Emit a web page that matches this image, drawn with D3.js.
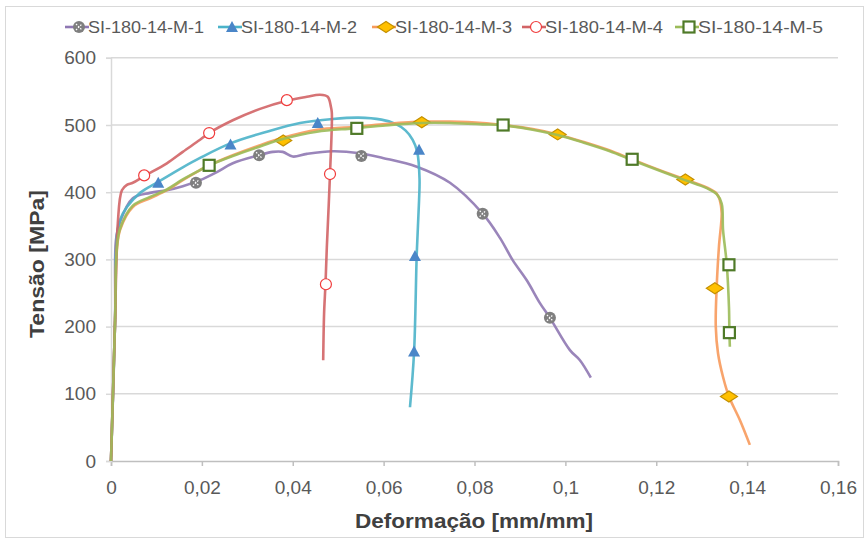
<!DOCTYPE html>
<html>
<head>
<meta charset="utf-8">
<script src="https://cdn.jsdelivr.net/npm/d3@7"></script>
<style>
  html, body { margin: 0; padding: 0; background: #ffffff; }
  svg { display: block; }
  text { font-family: "Liberation Sans", Arial, sans-serif; }
</style>
</head>
<body>
<div id="chart"></div>
<script>
// ---------- DATA ----------
const seriesNames = ["SI-180-14-M-1", "SI-180-14-M-2", "SI-180-14-M-3", "SI-180-14-M-4", "SI-180-14-M-5"];

const xTicks = [0, 0.02, 0.04, 0.06, 0.08, 0.1, 0.12, 0.14, 0.16];
const xTickLabels = ["0", "0,02", "0,04", "0,06", "0,08", "0,1", "0,12", "0,14", "0,16"];
const yTicks = [0, 100, 200, 300, 400, 500, 600];
const yTickLabels = ["0", "100", "200", "300", "400", "500", "600"];

// M-1
const m1Strain = [0, 0.0009, 0.0011, 0.002, 0.0048, 0.0086, 0.0123, 0.0158, 0.0196, 0.0233, 0.0268, 0.0326, 0.0356, 0.0378, 0.040, 0.0431, 0.0488, 0.0548, 0.0598, 0.0673, 0.0746, 0.0818, 0.0856, 0.0884, 0.0915, 0.0944, 0.0966, 0.101, 0.1032, 0.1056];
const m1Stress = [0, 210, 329, 356, 391, 399, 403, 409, 418, 430, 443, 455, 460, 460, 453, 457, 461, 458, 451, 438, 414, 368, 332, 299, 269, 235, 213, 165, 150, 124];
const m1MarkStrain = [0.0187, 0.0326, 0.0551, 0.0818, 0.0966];
const m1MarkStress = [414, 455, 454, 368, 213];

// M-2
const m2Strain = [0, 0.0009, 0.0013, 0.002, 0.0035, 0.0064, 0.0103, 0.0158, 0.0196, 0.0264, 0.0343, 0.0416, 0.0488, 0.0545, 0.0595, 0.0625, 0.0648, 0.0664, 0.0674, 0.0679, 0.0678, 0.0673, 0.0667, 0.0658];
const m2Stress = [0, 210, 336, 359, 378, 399, 415, 437, 451, 473, 490, 503, 509, 511, 508, 502, 492, 478, 460, 420, 388, 310, 162, 80];
const m2MarkStrain = [0.0104, 0.0263, 0.0455, 0.0678, 0.0669, 0.0667];
const m2MarkStress = [414, 471, 503, 463, 305, 163];

// M-3
const m3Strain = [0, 0.0009, 0.0013, 0.002, 0.0048, 0.0086, 0.0123, 0.0158, 0.0196, 0.0216, 0.0268, 0.0328, 0.0378, 0.0453, 0.0532, 0.0598, 0.0684, 0.0746, 0.0818, 0.0862, 0.0928, 0.0983, 0.1039, 0.1098, 0.1146, 0.1215, 0.1263, 0.1311, 0.1333, 0.134, 0.1344, 0.1338, 0.1333, 0.1331, 0.1336, 0.1347, 0.136, 0.1384, 0.1406];
const m3Stress = [0, 210, 314, 344, 378, 391, 403, 418, 433, 440, 455, 470, 481, 493, 497, 501, 505, 505, 503, 500, 494, 486, 475, 462, 449, 431, 419, 407, 398, 388, 369, 319, 259, 200, 160, 125, 96, 61, 24];
const m3MarkStrain = [0.0379, 0.0684, 0.0983, 0.1264, 0.1329, 0.136];
const m3MarkStress = [477, 504, 486, 419, 257, 96];

// M-4
const m4Strain = [0, 0.0009, 0.0015, 0.0024, 0.0035, 0.0048, 0.0073, 0.0123, 0.0158, 0.0196, 0.0216, 0.0268, 0.0328, 0.0387, 0.0431, 0.046, 0.0477, 0.0484, 0.0486, 0.0482, 0.0475, 0.0472, 0.0469, 0.0467];
const m4Stress = [0, 210, 354, 403, 411, 414, 424, 443, 460, 478, 488, 507, 524, 536, 542, 545, 542, 527, 518, 427, 318, 263, 220, 150];
const m4MarkStrain = [0.0073, 0.0216, 0.0387, 0.0482, 0.0473];
const m4MarkStress = [425, 488, 537, 427, 263];

// M-5
const m5Strain = [0, 0.0009, 0.0013, 0.002, 0.0048, 0.0086, 0.0123, 0.0158, 0.0196, 0.0216, 0.0268, 0.0328, 0.0378, 0.0453, 0.0532, 0.0598, 0.0684, 0.0746, 0.0818, 0.0862, 0.0928, 0.0983, 0.1039, 0.1098, 0.1146, 0.1215, 0.1263, 0.1311, 0.1333, 0.1344, 0.1347, 0.1355, 0.136, 0.1361, 0.1362];
const m5Stress = [0, 210, 318, 346, 380, 393, 404, 419, 433, 440, 454, 468, 479, 490, 495, 499, 503, 503, 501, 499.5, 493, 485, 474, 461, 448, 430, 418, 406, 397, 383, 344, 294, 230, 191, 170];
const m5MarkStrain = [0.0216, 0.0541, 0.0863, 0.1147, 0.136, 0.1361];
const m5MarkStress = [440, 495, 500, 449, 292, 191];

// ---------- CHART ----------
const W = 866, H = 540;
const svg = d3.select("#chart").append("svg").attr("width", W).attr("height", H);

const x = d3.scaleLinear().domain([0, 0.16]).range([111, 838]);
const y = d3.scaleLinear().domain([0, 600]).range([461, 57.8]);

// outer border
svg.append("rect").attr("x", 5.5).attr("y", 6.5).attr("width", 858).attr("height", 531)
  .attr("fill", "none").attr("stroke", "#d9d9d9").attr("stroke-width", 1);

// gridlines
svg.append("g").selectAll("line").data(yTicks.filter(d => d > 0)).join("line")
  .attr("x1", x(0)).attr("x2", x(0.16))
  .attr("y1", d => y(d)).attr("y2", d => y(d))
  .attr("stroke", "#d9d9d9").attr("stroke-width", 1.5);

// x axis
const xAxis = d3.axisBottom(x).tickValues(xTicks).tickFormat((d, i) => xTickLabels[i]).tickSize(5).tickPadding(15);
const gx = svg.append("g").attr("transform", `translate(0,${y(0)})`).call(xAxis);
gx.select(".domain").attr("stroke", "#bfbfbf").attr("stroke-width", 1.5);
gx.selectAll(".tick line").attr("stroke", "#bfbfbf").attr("stroke-width", 1.5);
gx.selectAll(".tick text").attr("fill", "#595959").attr("font-size", 19)
  .attr("font-family", "'Liberation Sans', Arial, sans-serif");

// y axis
const yAxis = d3.axisLeft(y).tickValues(yTicks).tickFormat((d, i) => yTickLabels[i]).tickSize(5).tickPadding(10);
const gy = svg.append("g").attr("transform", `translate(${x(0)},0)`).call(yAxis);
gy.select(".domain").attr("stroke", "#d9d9d9").attr("stroke-width", 1.5);
gy.selectAll(".tick line").attr("stroke", "#d9d9d9").attr("stroke-width", 1.5);
gy.selectAll(".tick text").attr("fill", "#595959").attr("font-size", 19)
  .attr("font-family", "'Liberation Sans', Arial, sans-serif");

// axis titles
svg.append("text").attr("x", 474).attr("y", 528).attr("text-anchor", "middle")
  .attr("font-size", 20).attr("font-weight", "bold").attr("fill", "#404040")
  .attr("textLength", 238).attr("lengthAdjust", "spacingAndGlyphs")
  .text("Deformação [mm/mm]");
svg.append("text").attr("transform", "translate(44,264) rotate(-90)").attr("text-anchor", "middle")
  .attr("font-size", 20).attr("font-weight", "bold").attr("fill", "#404040")
  .attr("textLength", 148).attr("lengthAdjust", "spacingAndGlyphs")
  .text("Tensão [MPa]");

// ---------- SERIES ----------
const series = [
  { name: seriesNames[0], sx: m1Strain, sy: m1Stress, mx: m1MarkStrain, my: m1MarkStress, color: "#8f78b3", marker: "xcircle" },
  { name: seriesNames[1], sx: m2Strain, sy: m2Stress, mx: m2MarkStrain, my: m2MarkStress, color: "#4bb3c9", marker: "triangle" },
  { name: seriesNames[2], sx: m3Strain, sy: m3Stress, mx: m3MarkStrain, my: m3MarkStress, color: "#f79a5c", marker: "diamond" },
  { name: seriesNames[3], sx: m4Strain, sy: m4Stress, mx: m4MarkStrain, my: m4MarkStress, color: "#d26466", marker: "ocircle" },
  { name: seriesNames[4], sx: m5Strain, sy: m5Stress, mx: m5MarkStrain, my: m5MarkStress, color: "#9bbb59", marker: "square" }
];

function drawMarker(g, type, cx, cy) {
  const m = g.append("g").attr("transform", `translate(${cx},${cy})`);
  if (type === "xcircle") {
    m.append("circle").attr("r", 6).attr("fill", "#7f7f7f");
    m.append("path").attr("d", "M-3,-3L3,3M-3,3L3,-3").attr("stroke", "#ffffff").attr("stroke-width", 1.2).attr("stroke-dasharray", "1.6,1.4");
  } else if (type === "triangle") {
    m.append("path").attr("d", "M0,-6L6,5L-6,5Z").attr("fill", "#4a86c8");
  } else if (type === "diamond") {
    m.append("path").attr("d", "M-8.5,0L0,-5.5L8.5,0L0,5.5Z").attr("fill", "#ffc000").attr("stroke", "#c49000").attr("stroke-width", 1.2);
  } else if (type === "ocircle") {
    m.append("circle").attr("r", 5.5).attr("fill", "#ffffff").attr("stroke", "#f03c3c").attr("stroke-width", 1.2);
  } else if (type === "square") {
    m.append("rect").attr("x", -5.5).attr("y", -5.5).attr("width", 11).attr("height", 11)
      .attr("fill", "#ffffff").attr("stroke", "#4f7a28").attr("stroke-width", 2.2);
  }
}

const line = d3.line().x(d => x(d[0])).y(d => y(d[1])).curve(d3.curveCatmullRom.alpha(0.5));

series.forEach(s => {
  const g = svg.append("g");
  const pts = s.sx.map((v, i) => [v, s.sy[i]]);
  g.append("path").datum(pts).attr("d", line).attr("fill", "none")
    .attr("stroke", s.color).attr("stroke-width", 2.6).attr("stroke-linejoin", "round").attr("stroke-opacity", 0.9);
  s.mx.forEach((v, i) => drawMarker(g, s.marker, x(v), y(s.my[i])));
});

// ---------- LEGEND ----------
const legendX = [79, 232, 386, 536, 689];
const legendTextLen = [116, 116, 117, 118, 125];
const lg = svg.append("g");
series.forEach((s, i) => {
  const cx = legendX[i], cy = 27;
  lg.append("line").attr("x1", cx - 14).attr("x2", cx + 10).attr("y1", cy).attr("y2", cy)
    .attr("stroke", s.color).attr("stroke-width", 2.6);
  drawMarker(lg, s.marker, cx, cy);
  lg.append("text").attr("x", cx + 9).attr("y", cy + 6).attr("font-size", 16.5).attr("fill", "#595959")
    .attr("textLength", legendTextLen[i]).attr("lengthAdjust", "spacingAndGlyphs")
    .text(s.name);
});
</script>
</body>
</html>
